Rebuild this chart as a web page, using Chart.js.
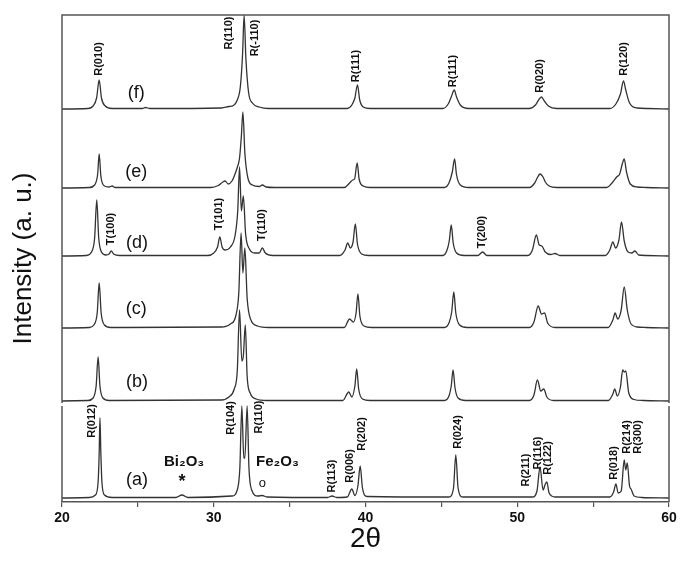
<html>
<head>
  <script src="https://cdn.jsdelivr.net/npm/chart.js@4.4.1/dist/chart.umd.min.js"></script>
  <style>
    body { margin: 0; background: #fff; }
  </style>
</head>
<body>
  <canvas id="xrd" width="680" height="565"></canvas>

  <script>
    // XRD patterns, [2theta, intensity above own baseline]
    var patternA = [[20,0],[21.8,0.5],[22.2,3],[22.38,16],[22.45,45],[22.5,80],[22.56,45],[22.63,16],[22.8,3],[23.3,0.5],
      [27.5,0.5],[27.9,3],[28.3,0.5],
      [31.2,2],[31.55,8],[31.72,30],[31.85,92],[31.98,40],[32.05,40],[32.2,92],[32.32,30],[32.5,8],[32.9,2],
      [33.2,2.5],[33.5,1],[37.5,0.5],[37.8,2],[38.1,0.5],
      [38.8,1],[39.1,9],[39.3,2.5],[39.5,12],[39.65,32],[39.8,10],[40.1,1.5],
      [45.5,1],[45.8,10],[45.95,43],[46.1,10],[46.4,1],
      [51.0,1],[51.3,7],[51.5,31],[51.7,8],[51.85,14],[51.95,16],[52.1,5],[52.5,1],
      [56.1,1],[56.35,6],[56.5,14],[56.65,5],[56.85,7],[57.05,38],[57.15,28],[57.25,35],[57.4,12],[57.5,9],[57.7,2],[58.2,0.5],[60,0]];

    var patternB = [[20,0],[21.7,0.5],[22.05,3],[22.25,15],[22.38,44],[22.5,15],[22.7,3],[23.1,0.5],
      [30.5,1],[31.0,4],[31.35,12],[31.55,30],[31.7,91],[31.85,40],[31.95,45],[32.08,76],[32.2,25],[32.4,8],[32.8,2],[33.5,0.5],
      [38.5,0.5],[38.9,9],[39.1,4],[39.3,15],[39.42,32],[39.55,12],[39.8,2],[40.3,0.5],
      [45.2,0.5],[45.5,5],[45.65,15],[45.77,31],[45.9,13],[46.1,3],[46.6,0.5],
      [50.8,0.5],[51.1,6],[51.33,21],[51.55,10],[51.75,12],[51.95,4],[52.4,0.5],
      [56.0,0.5],[56.3,7],[56.42,12],[56.6,5],[56.8,14],[56.95,31],[57.05,29],[57.15,30],[57.35,8],[57.7,1.5],[58.3,0.5],[60,0]];

    var patternC = [[20,0],[21.8,0.5],[22.1,3],[22.32,15],[22.45,45],[22.58,15],[22.8,3],[23.2,0.5],
      [30.5,1],[31.1,4],[31.45,12],[31.65,35],[31.8,95],[31.92,55],[32.05,80],[32.2,30],[32.45,8],[32.9,2],[33.6,0.5],
      [38.6,0.5],[38.95,9],[39.2,6],[39.38,15],[39.5,34],[39.63,12],[39.9,2],[40.4,0.5],
      [45.2,0.5],[45.5,5],[45.68,16],[45.82,36],[45.95,15],[46.2,3],[46.7,0.5],
      [50.8,0.5],[51.1,6],[51.38,22],[51.6,14],[51.8,15],[52.0,5],[52.5,0.5],
      [56.0,0.5],[56.3,8],[56.45,15],[56.62,9],[56.85,18],[57.05,41],[57.25,18],[57.5,4],[57.9,1],[58.5,0.5],[60,0]];

    var patternD = [[20,0],[21.6,0.5],[21.95,4],[22.15,18],[22.29,56],[22.42,18],[22.6,4],[22.9,1],[23.1,2],[23.25,5],[23.4,2],[23.8,0.5],
      [29.6,0.5],[30.0,3],[30.25,9],[30.4,19],[30.55,9],[30.75,6],[31.1,9],[31.4,20],[31.58,45],[31.7,89],[31.82,45],[31.95,60],[32.1,22],[32.35,7],[32.7,3],[33.0,3],[33.2,8],[33.4,3],[33.9,0.5],
      [38.3,0.5],[38.65,6],[38.83,13],[39.0,8],[39.18,14],[39.33,32],[39.47,12],[39.75,2],[40.2,0.5],
      [45.1,0.5],[45.35,5],[45.52,15],[45.65,31],[45.78,13],[46.0,3],[46.5,0.5],
      [47.4,0.5],[47.72,4],[48.0,0.5],
      [50.7,0.5],[51.0,6],[51.26,21],[51.45,11],[51.62,10],[51.85,4],[52.2,1.5],[52.5,2.5],[52.8,0.5],
      [55.8,0.5],[56.1,6],[56.3,14],[56.48,8],[56.7,16],[56.87,34],[57.05,15],[57.3,4],[57.55,3],[57.75,5],[58.0,1],[58.5,0.5],[60,0]];

    var patternE = [[20,0],[21.8,0.5],[22.15,3],[22.35,14],[22.45,34],[22.56,12],[22.8,2],[23.1,1],[23.3,2],[23.5,0.5],
      [29.8,0.5],[30.3,2.5],[30.6,6],[30.75,7],[30.95,4],[31.2,7],[31.45,16],[31.58,22],[31.7,30],[31.82,52],[31.92,76],[32.05,35],[32.25,10],[32.55,3],[33.0,1.5],[33.2,3],[33.45,1],[34,0.5],
      [38.6,0.5],[38.95,5],[39.15,8],[39.28,9],[39.45,25],[39.58,9],[39.85,2],[40.3,0.5],
      [45.2,0.5],[45.5,5],[45.72,16],[45.87,29],[46.0,13],[46.25,3],[46.8,0.5],
      [50.8,0.5],[51.15,5],[51.35,11],[51.5,14],[51.7,11],[51.85,6],[52.1,2],[52.6,0.5],
      [55.9,0.5],[56.3,6],[56.55,11],[56.75,14],[56.92,24],[57.05,29],[57.2,16],[57.45,4],[57.9,1],[58.5,0.5],[60,0]];

    var patternF = [[20,0],[21.7,0.5],[22.05,3],[22.28,11],[22.45,29],[22.6,11],[22.85,3],[23.3,0.5],
      [25.3,0.5],[25.5,1.5],[25.8,0.5],
      [30.5,1],[31.0,2.5],[31.3,3.5],[31.55,9],[31.75,22],[31.9,55],[32.0,94],[32.12,50],[32.3,16],[32.55,6],[33.0,2],[33.6,0.5],
      [38.8,0.5],[39.1,4],[39.3,11],[39.47,24],[39.62,9],[39.85,2],[40.3,0.5],
      [45.1,0.5],[45.45,5],[45.65,12],[45.85,19],[46.0,12],[46.25,4],[46.8,0.5],
      [50.8,0.5],[51.2,4],[51.45,10],[51.6,12],[51.78,8],[52.05,3],[52.6,0.5],
      [56.1,0.5],[56.5,5],[56.8,15],[57.0,28],[57.15,19],[57.4,6],[57.9,1],[58.6,0.5],[60,0]];

    var patterns = [patternA, patternB, patternC, patternD, patternE, patternF];
    var sampleNames = ['(a)', '(b)', '(c)', '(d)', '(e)', '(f)'];
    var baselines = [4, 101, 174, 246, 314, 393];   // vertical stacking of the patterns
    var boxSplit = [96, 99];                         // gap between the (a) panel and the rest

    var xTicks = [20, 30, 40, 50, 60];

    // label text, 2theta, height (same units as the stacked intensity)
    var sampleLabels = [['(a)',24.95,22],['(b)',24.95,120],['(c)',24.9,193],['(d)',24.95,259],['(e)',24.9,330],['(f)',24.9,409]];
    var peakLabels = [
      ['R(010)',22.45,443],['R(110)',31.0,469],['R(-110)',32.7,464],['R(111)',39.4,436],['R(111)',45.75,431],['R(020)',51.5,426],['R(120)',57.0,443],
      ['T(100)',23.25,273],['T(101)',30.36,288],['T(110)',33.2,277],['T(200)',47.7,270],
      ['R(012)',22.0,81],['R(104)',31.15,84],['R(110)',32.95,85],['R(113)',37.77,26],['R(006)',38.95,36],['R(202)',39.8,68],
      ['R(024)',46.1,70],['R(211)',50.6,32],['R(116)',51.35,49],['R(122)',52.0,44],['R(018)',56.37,39],['R(214)',57.2,65],['R(300)',57.95,65]
    ];
    var phaseLabels = [['Bi\u2082O\u2083',28.05,40],['Fe\u2082O\u2083',34.2,40]];
    var phaseMarks = [['*',27.9,20],['o',33.2,19]];

    var FONT = '"Liberation Sans", Arial, sans-serif';

    var datasets = [];
    for (i = 0; i < patterns.length; i++) {
      var pts = [];
      for (j = 0; j < patterns[i].length; j++) {
        pts.push({x: patterns[i][j][0], y: patterns[i][j][1] + baselines[i]});
      }
      datasets.push({
        label: sampleNames[i],
        data: pts,
        borderColor: '#333',
        borderWidth: 1.3,
        pointRadius: 0,
        cubicInterpolationMode: 'monotone',
        fill: false
      });
    }

    var annotate = {
      id: 'annotate',
      afterDatasetsDraw: function(chart) {
        var ctx = chart.ctx, a = chart.chartArea, x = chart.scales.x, y = chart.scales.y;
        ctx.save();

        // frame, split in two boxes
        var yLo = y.getPixelForValue(boxSplit[0]);
        var yUp = y.getPixelForValue(boxSplit[1]);
        ctx.strokeStyle = '#555';
        ctx.lineWidth = 1.5;
        ctx.beginPath();
        ctx.moveTo(a.left, yUp); ctx.lineTo(a.left, a.top); ctx.lineTo(a.right, a.top); ctx.lineTo(a.right, yUp);
        ctx.moveTo(a.left, yLo); ctx.lineTo(a.left, a.bottom);
        ctx.moveTo(a.right, yLo); ctx.lineTo(a.right, a.bottom);
        ctx.stroke();

        ctx.fillStyle = '#111';
        ctx.textAlign = 'center';
        ctx.textBaseline = 'middle';

        ctx.font = '18px ' + FONT;
        sampleLabels.forEach(function(l) {
          ctx.fillText(l[0], x.getPixelForValue(l[1]), y.getPixelForValue(l[2]));
        });

        ctx.font = 'bold 11px ' + FONT;
        peakLabels.forEach(function(l) {
          ctx.save();
          ctx.translate(x.getPixelForValue(l[1]), y.getPixelForValue(l[2]));
          ctx.rotate(-Math.PI / 2);
          ctx.fillText(l[0], 0, 0);
          ctx.restore();
        });

        ctx.font = 'bold 15px ' + FONT;
        phaseLabels.forEach(function(l) {
          ctx.fillText(l[0], x.getPixelForValue(l[1]), y.getPixelForValue(l[2]));
        });
        ctx.font = 'bold 18px ' + FONT;
        ctx.fillText(phaseMarks[0][0], x.getPixelForValue(phaseMarks[0][1]), y.getPixelForValue(phaseMarks[0][2]));
        ctx.font = '13px ' + FONT;
        ctx.fillText(phaseMarks[1][0], x.getPixelForValue(phaseMarks[1][1]), y.getPixelForValue(phaseMarks[1][2]));

        ctx.restore();
      }
    };

    new Chart(document.getElementById('xrd'), {
      type: 'line',
      data: { datasets: datasets },
      plugins: [annotate],
      options: {
        responsive: false,
        animation: false,
        devicePixelRatio: 1,
        layout: { padding: { left: 0, right: 11, top: 15, bottom: 0 } },
        plugins: { legend: { display: false }, tooltip: { enabled: false } },
        scales: {
          x: {
            type: 'linear',
            min: 20,
            max: 60,
            afterFit: function(s) { s.height = 63; },
            afterBuildTicks: function(s) {
              var t = [];
              for (v = xTicks[0]; v <= xTicks[xTicks.length - 1]; v += 5) t.push({value: v});
              s.ticks = t;
            },
            ticks: {
              autoSkip: false,
              maxRotation: 0,
              padding: 3,
              color: '#111',
              font: { family: FONT, size: 14, weight: 'bold' },
              callback: function(v) { return xTicks.indexOf(v) >= 0 ? v : ''; }
            },
            grid: { drawOnChartArea: false, drawTicks: true, tickLength: 5, color: '#555', lineWidth: 1.2 },
            border: { display: true, color: '#555', width: 1.5 },
            title: {
              display: true,
              text: '2\u03b8',
              color: '#111',
              font: { family: FONT, size: 28 },
              padding: { top: 0, bottom: 9 }
            }
          },
          y: {
            min: 0,
            max: 487,
            afterFit: function(s) { s.width = 62; },
            ticks: { display: false },
            grid: { display: false },
            border: { display: false },
            title: {
              display: true,
              text: 'Intensity (a. u.)',
              color: '#111',
              font: { family: FONT, size: 26 },
              padding: { top: 8, bottom: 0 }
            }
          }
        }
      }
    });
  </script>
</body>
</html>
